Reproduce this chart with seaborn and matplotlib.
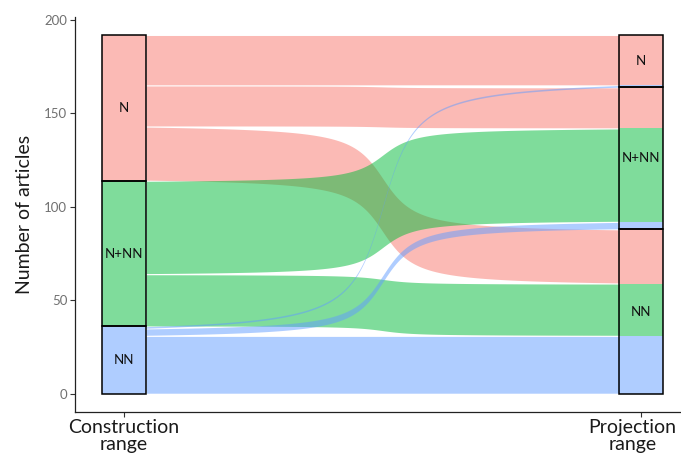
import numpy as np
import matplotlib
matplotlib.use("Agg")
import matplotlib.pyplot as plt
import matplotlib.transforms as mtransforms
import seaborn as sns

# ---- data ----
strata = ["N", "N+NN", "NN"]                      # top to bottom
flow_from = ["N", "N", "N", "N+NN", "N+NN", "NN", "NN", "NN"]
flow_to = ["N", "N+NN", "NN", "N+NN", "NN", "N", "N+NN", "NN"]
flow_n = [27, 22, 29, 50, 28, 1, 4, 31]
axis_labels = ["Construction\nrange", "Projection\nrange"]
yticks = [0, 50, 100, 150, 200]
ylabel = "Number of articles"

sns.set_theme(style="ticks")
plt.rcParams["font.family"] = ["Lato", "DejaVu Sans"]

palette = dict(zip(strata, ["#F8766D", "#00BA38", "#619CFF"]))
alpha = 0.5
w = 0.085   # stratum width
r = 10.0    # arctangent curve range

total = sum(flow_n)
idx = list(range(len(flow_n)))
order = {s: i for i, s in enumerate(strata)}

left_pos = {}
cur = total
for i in sorted(idx, key=lambda j: (order[flow_from[j]], order[flow_to[j]])):
    left_pos[i] = (cur - flow_n[i], cur)
    cur -= flow_n[i]
right_pos = {}
cur = total
for i in sorted(idx, key=lambda j: (order[flow_to[j]], order[flow_from[j]])):
    right_pos[i] = (cur - flow_n[i], cur)
    cur -= flow_n[i]

def extents(side):
    out = {}
    cur = total
    for s in strata:
        if side == 0:
            n = sum(flow_n[i] for i in idx if flow_from[i] == s)
        else:
            n = sum(flow_n[i] for i in idx if flow_to[i] == s)
        out[s] = (cur - n, cur)
        cur -= n
    return out

ext_left = extents(0)
ext_right = extents(1)

fig = plt.figure(figsize=(6.81, 4.59), dpi=100)
ax = fig.add_axes([0.1101, 0.1030, 0.9038, 0.860])

x0, x1 = 1 + w / 2, 2 - w / 2
t = np.linspace(0, 1, 600)
s = (np.arctan(r * (2 * t - 1)) / np.arctan(r) + 1) / 2
xc = x0 + (x1 - x0) * t

for i in idx:
    lb, lt = left_pos[i]
    rb, rt = right_pos[i]
    gap = min(0.3, flow_n[i] * 0.08)
    yb = lb + (rb - lb) * s + gap
    yt = lt + (rt - lt) * s - gap
    col = palette[flow_from[i]]
    ax.fill_between(xc, yb, yt, color=col, alpha=alpha, linewidth=0)
    ax.fill_between([x1, 2 + w / 2], [rb, rb], [rt, rt], color=col,
                    alpha=alpha, linewidth=0)

for st in strata:
    b, tp = ext_left[st]
    ax.fill_between([1 - w / 2, 1 + w / 2], [b, b], [tp, tp],
                    color=palette[st], alpha=alpha, linewidth=0)

for xpos, ext in ((1, ext_left), (2, ext_right)):
    for st in strata:
        b, tp = ext[st]
        ax.add_patch(plt.Rectangle((xpos - w / 2, b), w, tp - b, fill=False,
                                   edgecolor="black", linewidth=1.1, zorder=5))
        ax.text(xpos, (b + tp) / 2, st, ha="center", va="center",
                fontsize=9.5, color="#111111", zorder=6)

ax.set_xlim(0.905, 2.095)
ax.set_ylim(-9.6, 201.6)
ax.set_xticks([1, 2])
ax.set_xticklabels(axis_labels, fontsize=14, color="#1a1a1a", linespacing=1.0)
ax.set_yticks(yticks)
ax.set_yticklabels([str(v) for v in yticks], fontsize=9.5, color="#707070")
ax.set_ylabel(ylabel, fontsize=14, color="#1a1a1a", labelpad=8)
sns.despine(ax=ax)
for sp in ("left", "bottom"):
    ax.spines[sp].set_color("#222222")
    ax.spines[sp].set_linewidth(0.9)
ax.tick_params(axis="both", length=3.5, width=0.8, color="#333333", pad=2)

# keep the right-hand axis label inside the figure
lab = ax.get_xticklabels()[1]
lab.set_transform(lab.get_transform() +
                  mtransforms.ScaledTranslation(-9 / 100, 0, fig.dpi_scale_trans))

fig.savefig("out.png", dpi=100)
